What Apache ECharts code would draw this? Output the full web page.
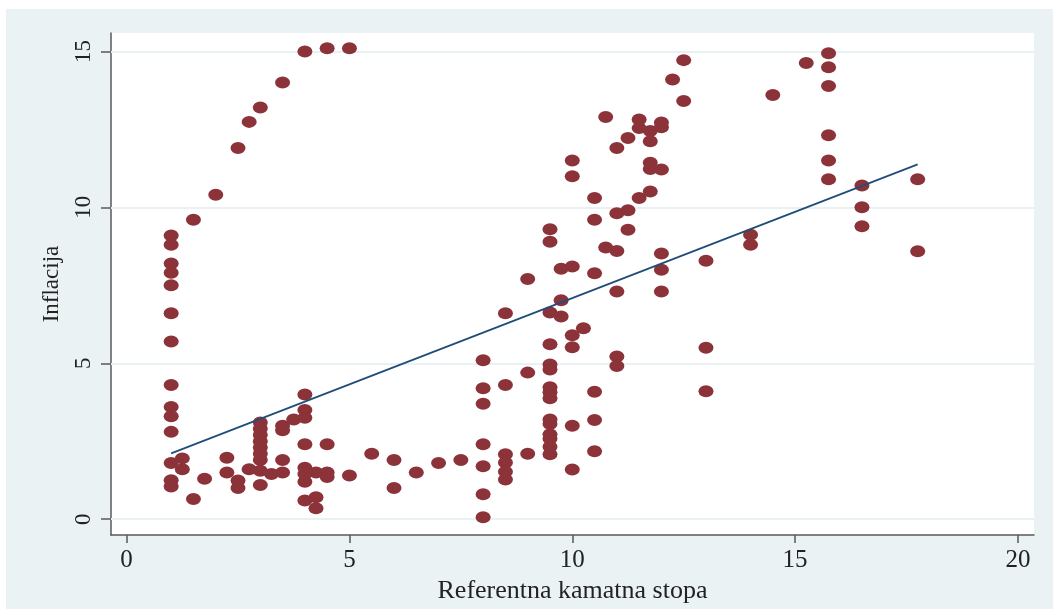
<!DOCTYPE html>
<html>
<head>
<meta charset="utf-8">
<script src="https://cdn.jsdelivr.net/npm/echarts@6/dist/echarts.min.js"></script>
<style>
html,body{margin:0;padding:0;background:#ffffff;width:1053px;height:609px;overflow:hidden;}
#chart{position:absolute;left:6px;top:9px;width:1047px;height:600px;}
</style>
</head>
<body>
<div id="chart"></div>
<script>
// Tick labels
const xTicks = [0, 5, 10, 15, 20];
const yTicks = [0, 5, 10, 15];

// Referentna kamatna stopa (x) and Inflacija (y)
const rate = [
  1,1,1,1,1,1,1,1,1,1,1,1,1,1,
  1.25,1.25,
  1.5,1.5,
  1.75,
  2,
  2.25,2.25,
  2.5,2.5,2.5,
  2.75,2.75,
  3,3,3,3,3,3,3,3,3,3,
  3.25,
  3.5,3.5,3.5,3.5,3.5,
  3.75,
  4,4,4,4,4,4,4,4,4,
  4.25,4.25,4.25,
  4.5,4.5,4.5,4.5,
  5,5,
  5.5,
  6,6,
  6.5,
  7,
  7.5,
  8,8,8,8,8,8,8,
  8.5,8.5,8.5,8.5,8.5,8.5,
  9,9,9,
  9.5,9.5,9.5,9.5,9.5,9.5,9.5,9.5,9.5,9.5,9.5,9.5,9.5,9.5,9.5,
  9.75,9.75,9.75,
  10,10,10,10,10,10,10,
  10.25,
  10.5,10.5,10.5,10.5,10.5,10.5,
  10.75,10.75,
  11,11,11,11,11,11,
  11.25,11.25,11.25,
  11.5,11.5,11.5,
  11.75,11.75,11.75,11.75,11.75,
  12,12,12,12,12,12,
  12.25,
  12.5,12.5,
  13,13,13,
  14,14,
  14.5,
  15.25,
  15.75,15.75,15.75,15.75,15.75,15.75,
  16.5,16.5,16.5,
  17.75,17.75
];
const inflation = [
  9.1,8.8,8.2,7.9,7.5,6.6,5.7,4.3,3.6,3.3,2.8,1.8,1.25,1.05,
  1.95,1.6,
  9.6,0.65,
  1.3,
  10.4,
  1.97,1.5,
  11.9,1.24,1.0,
  12.74,1.6,
  13.2,3.1,2.9,2.7,2.5,2.3,2.1,1.9,1.55,1.1,
  1.45,
  14.0,3.0,2.85,1.9,1.5,
  3.2,
  15.0,4.0,3.5,3.25,2.4,1.65,1.45,1.2,0.6,
  1.5,0.7,0.35,
  15.1,2.4,1.5,1.35,
  15.1,1.4,
  2.1,
  1.9,1.0,
  1.5,
  1.8,
  1.9,
  5.1,4.2,3.7,2.4,1.7,0.8,0.06,
  6.6,4.3,2.08,1.82,1.52,1.27,
  7.7,4.7,2.1,
  9.3,8.9,6.63,5.61,4.96,4.8,4.23,4.07,3.88,3.2,3.05,2.72,2.58,2.32,2.08,
  8.03,7.02,6.5,
  11.5,11.0,8.1,5.9,5.51,3.0,1.59,
  6.12,
  10.3,9.6,7.89,4.09,3.18,2.18,
  12.9,8.71,
  11.9,9.81,8.6,7.3,5.22,4.91,
  12.22,9.91,9.28,
  12.82,12.54,10.3,
  12.45,12.12,11.43,11.23,10.51,
  12.72,12.57,11.21,8.52,8.0,7.3,
  14.1,
  14.72,13.41,
  8.29,5.5,4.1,
  9.12,8.8,
  13.6,
  14.63,
  14.94,14.49,13.89,12.31,11.5,10.9,
  10.7,10.0,9.39,
  10.9,8.59
];

// Fitted line end points
const fitRate = [1.0, 17.75];
const fitInflation = [2.11, 11.38];

const serif = '"Liberation Serif","DejaVu Serif","Times New Roman",serif';
const points = rate.map((r, i) => [r, inflation[i]]);
const fitLine = fitRate.map((r, i) => [r, fitInflation[i]]);

const chart = echarts.init(document.getElementById('chart'), null, {renderer: 'canvas'});
chart.setOption({
  backgroundColor: '#eaf2f3',
  animation: false,
  grid: {
    left: 105, right: 19, top: 24, bottom: 63.5,
    show: true, backgroundColor: '#ffffff', borderWidth: 0
  },
  xAxis: {
    type: 'value', min: -0.35, max: 20.36,
    name: 'Referentna kamatna stopa', nameLocation: 'middle', nameGap: 40,
    nameTextStyle: {fontFamily: serif, fontSize: 26, color: '#222222'},
    axisLine: {show: true, onZero: false, lineStyle: {color: '#5a5a5a', width: 1.5}},
    axisTick: {show: true, length: 8, customValues: xTicks, lineStyle: {color: '#5a5a5a', width: 1.5}},
    axisLabel: {customValues: xTicks, fontFamily: serif, fontSize: 25, color: '#222222', margin: 13},
    splitLine: {show: false}
  },
  yAxis: {
    type: 'value', min: -0.51, max: 15.59,
    name: 'Inflacija', nameLocation: 'middle', nameGap: 48, nameRotate: 90,
    nameTextStyle: {fontFamily: serif, fontSize: 23, color: '#222222'},
    axisLine: {show: true, onZero: false, lineStyle: {color: '#5a5a5a', width: 1.5}},
    axisTick: {show: true, length: 10, customValues: yTicks, lineStyle: {color: '#5a5a5a', width: 1.5}},
    axisLabel: {customValues: yTicks, rotate: 90, fontFamily: serif, fontSize: 23, color: '#222222', margin: 16},
    splitLine: {show: false}
  },
  series: [
    {
      type: 'line', data: [], z: 1, silent: true,
      markLine: {
        z: 1, silent: true, symbol: ['none', 'none'], label: {show: false},
        lineStyle: {color: '#eaf1f3', width: 2, type: 'solid'},
        emphasis: {disabled: true},
        data: yTicks.map(v => ({yAxis: v}))
      }
    },
    {
      type: 'scatter', z: 3, data: points,
      symbol: 'circle', symbolSize: [15, 12],
      itemStyle: {color: '#8c333a', opacity: 1}
    },
    {
      type: 'line', z: 4, data: fitLine, showSymbol: false, symbol: 'none',
      lineStyle: {color: '#1f4e79', width: 1.8}
    }
  ]
});
</script>
</body>
</html>
